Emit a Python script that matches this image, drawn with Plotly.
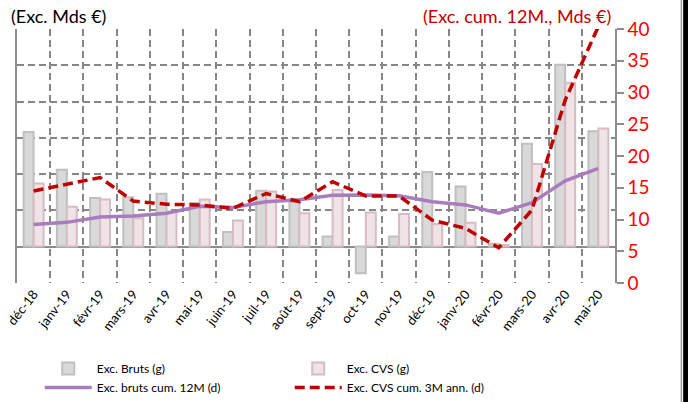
import plotly.graph_objects as go

months = ["déc-18", "janv-19", "févr-19", "mars-19", "avr-19", "mai-19", "juin-19",
          "juil-19", "août-19", "sept-19", "oct-19", "nov-19", "déc-19", "janv-20",
          "févr-20", "mars-20", "avr-20", "mai-20"]

exc_bruts = [1.58, 1.06, 0.67, 0.68, 0.73, 0.60, 0.20, 0.77, 0.61, 0.14, -0.37, 0.14,
             1.03, 0.83, 0.04, 1.42, 2.51, 1.59]
exc_cvs = [0.87, 0.55, 0.65, 0.39, 0.48, 0.65, 0.36, 0.76, 0.46, 0.78, 0.47, 0.45,
           0.31, 0.33, 0.02, 1.14, 2.26, 1.63]
cum_12m = [9.2, 9.55, 10.4, 10.55, 11.0, 12.1, 11.9, 12.8, 13.1, 13.8, 13.85, 13.75,
           12.8, 12.3, 11.0, 12.65, 16.1, 18.05]
cvs_3m_ann = [14.5, 15.5, 16.6, 12.9, 12.4, 12.3, 11.75, 14.1, 12.8, 15.95, 13.7, 13.7,
              9.9, 8.6, 5.55, 11.5, 28.8, 40.4]

FONT = "Lato"
GRID = "#868686"
AXIS = "#8c8c8c"
GRIDDASH = "7px,4px"

fig = go.Figure()
fig.add_trace(go.Bar(x=months, y=exc_bruts, name="Exc. Bruts (g)",
                     marker=dict(color="#d9d9d9", line=dict(color="#bfbfbf", width=2))))
fig.add_trace(go.Bar(x=months, y=exc_cvs, name="Exc. CVS (g)",
                     marker=dict(color="#efe3e6", line=dict(color="#d6bcc3", width=2))))
fig.add_trace(go.Scatter(x=months, y=cum_12m, name="Exc. bruts cum. 12M (d)", yaxis="y2",
                         mode="lines", line=dict(color="#a87dbd", width=3.5)))
fig.add_trace(go.Scatter(x=months, y=cvs_3m_ann, name="Exc. CVS cum. 3M ann. (d)", yaxis="y2",
                         mode="lines", line=dict(color="#c00000", width=3.5, dash="10px,5px")))

fig.update_layout(
    width=688, height=402,
    margin=dict(l=17, r=73, t=29, b=119, autoexpand=False),
    paper_bgcolor="white", plot_bgcolor="white",
    font=dict(family=FONT, color="#000000"),
    barmode="group", bargap=0.4, bargroupgap=0,
    showlegend=True,
    legend=dict(orientation="h", x=0.038, y=-0.28, xanchor="left", yanchor="top",
                entrywidth=188, entrywidthmode="pixels", itemwidth=47,
                font=dict(family=FONT, size=12, color="#000000"),
                bgcolor="rgba(0,0,0,0)", tracegroupgap=0),
    xaxis=dict(type="category", tickson="boundaries", showgrid=True, gridcolor=GRID,
               griddash=GRIDDASH, gridwidth=1.5, tickangle=-52, ticks="",
               tickfont=dict(family=FONT, size=13, color="#000000"),
               showline=False, zeroline=False, automargin=False),
    yaxis=dict(range=[-0.503, 3.003], tickvals=[-0.5, 0, 0.5, 1.0, 1.5, 2.0, 2.5, 3.0],
               showticklabels=False, showgrid=True,
               gridcolor=GRID, griddash=GRIDDASH, gridwidth=1.5,
               zeroline=True, zerolinecolor=AXIS, zerolinewidth=1.5,
               showline=True, linecolor=AXIS, linewidth=1.5, ticks="", automargin=False),
    yaxis2=dict(range=[0, 40], dtick=5, overlaying="y", side="right", showgrid=False,
                zeroline=False, showline=True, linecolor=AXIS, linewidth=1.5,
                ticks="outside", ticklen=7, tickcolor=AXIS, tickwidth=1.5, automargin=False,
                tickfont=dict(family=FONT, size=19, color="#ff0000")),
    annotations=[
        dict(text="(Exc. Mds €)", xref="paper", yref="paper", x=-0.013, y=1.052,
             xanchor="left", yanchor="middle", showarrow=False,
             font=dict(family=FONT, size=18, color="#000000")),
        dict(text="(Exc. cum. 12M., Mds €)", xref="paper", yref="paper", x=0.997, y=1.052,
             xanchor="right", yanchor="middle", showarrow=False,
             font=dict(family=FONT, size=18, color="#c00000")),
    ],
    shapes=[
        dict(type="line", xref="paper", yref="paper", x0=1.1110, x1=1.1110, y0=-0.5, y1=1.2,
             line=dict(color="#a0a0a0", width=1.5)),
        dict(type="rect", xref="paper", yref="paper", x0=1.1140, x1=1.2, y0=-0.5, y1=1.2,
             line=dict(width=0), fillcolor="#000000"),
    ],
)

fig.write_html("out.html", config={"displayModeBar": False},
               post_script="document.body.style.margin='0';document.body.style.overflow='hidden';")
